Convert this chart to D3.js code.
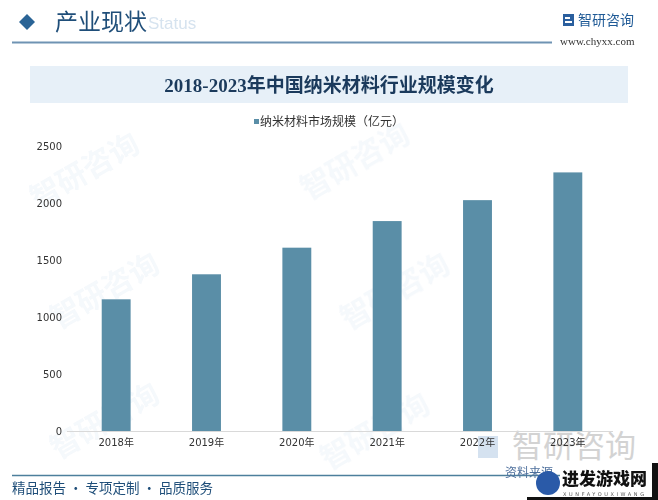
<!DOCTYPE html>
<html><head><meta charset="utf-8">
<script src="https://cdn.jsdelivr.net/npm/d3@7/dist/d3.min.js"></script>
<style>body{margin:0;background:#fff}svg{display:block}</style>
</head><body>
<svg id="c" width="658" height="500"></svg>
<script>
const categories = ["2018年","2019年","2020年","2021年","2022年","2023年"];
const values = [1158, 1378, 1612, 1846, 2030, 2274];
const yTicks = [0, 500, 1000, 1500, 2000, 2500];
const seriesName = "纳米材料市场规模（亿元）";
const titleText = "2018-2023年中国纳米材料行业规模变化";

const svg = d3.select("#c");
const cjk = "'Noto Sans CJK SC', 'Noto Sans', sans-serif";
const serif = "'Liberation Serif', 'DejaVu Serif', 'Noto Sans CJK SC', serif";
const barColor = "#5a8ea7";

// faint watermarks
const wm = svg.append("g").attr("opacity", 0.045).attr("fill", "#2a6bb0").attr("font-family", cjk).attr("font-size", 30).attr("font-weight", 700);
[[90,180],[360,170],[110,300],[400,300],[110,430],[380,440]].forEach(([x,y]) => {
  wm.append("text").attr("transform", `translate(${x},${y}) rotate(-30)`).attr("text-anchor","middle").text("智研咨询");
});

// bottom-right watermark (behind chart labels)
svg.append("rect").attr("x", 478).attr("y", 436).attr("width", 20).attr("height", 22).attr("fill", "#d5e2f0");
svg.append("text").attr("x", 512).attr("y", 457).attr("font-family", cjk).attr("font-size", 31).attr("fill", "#c9c9c9").attr("opacity", 0.8).text("智研咨询");

// header
svg.append("path").attr("d", "M27,14 L35,22 L27,30 L19,22 Z").attr("fill", "#2a6496");
svg.append("text").attr("x", 148).attr("y", 29).attr("font-family", "'Liberation Sans', sans-serif").attr("font-size", 17).attr("fill", "#d6e3ef").text("Status");
svg.append("text").attr("x", 55).attr("y", 30).attr("font-family", serif).attr("font-size", 23).attr("fill", "#1f4e79").text("产业现状");
svg.append("line").attr("x1", 12).attr("x2", 552).attr("y1", 42.5).attr("y2", 42.5).attr("stroke", "#6f93b3").attr("stroke-width", 2);
// logo
const lg = svg.append("g");
lg.append("rect").attr("x", 563).attr("y", 14).attr("width", 11).attr("height", 12).attr("fill", "#2a5f9e");
lg.append("path").attr("d", "M565,17 h5 v2 h-5 z M565,21 h7 v2 h-7 z").attr("fill", "#fff");
lg.append("text").attr("x", 578).attr("y", 25).attr("font-family", cjk).attr("font-size", 14).attr("fill", "#1f5a96").text("智研咨询");
lg.append("text").attr("x", 560).attr("y", 45).attr("font-family", serif).attr("font-size", 11).attr("fill", "#333").text("www.chyxx.com");

// title band
svg.append("rect").attr("x", 30).attr("y", 66).attr("width", 598).attr("height", 37).attr("fill", "#e7f0f8");
svg.append("text").attr("x", 329).attr("y", 92).attr("text-anchor", "middle").attr("font-family", serif).attr("font-size", 19).attr("font-weight", 700).attr("fill", "#1b3a5c").text(titleText);

// legend
svg.append("rect").attr("x", 254).attr("y", 119).attr("width", 5).attr("height", 5).attr("fill", barColor);
svg.append("text").attr("x", 260).attr("y", 126).attr("font-family", cjk).attr("font-size", 12).attr("fill", "#333").text(seriesName);

// scales
const x = d3.scaleBand().domain(categories).range([71, 613]).paddingInner(0.68).paddingOuter(0.34);
const y = d3.scaleLinear().domain([0, 2500]).range([431, 146.7]);

// bars
svg.append("g").selectAll("rect").data(values).join("rect")
  .attr("x", (d, i) => x(categories[i]))
  .attr("y", d => y(d))
  .attr("width", x.bandwidth())
  .attr("height", d => y(0) - y(d))
  .attr("fill", barColor);

// y axis
const ya = svg.append("g").attr("transform", "translate(66,0)")
  .call(d3.axisLeft(y).tickValues(yTicks).tickFormat(d3.format("d")).tickSize(0).tickPadding(4));
ya.select(".domain").remove();
ya.selectAll("text").attr("font-family", "'DejaVu Sans', sans-serif").attr("font-size", 10).attr("fill", "#333");

// x axis
const xa = svg.append("g").attr("transform", `translate(0,${y(0)})`)
  .call(d3.axisBottom(x).tickSize(0).tickPadding(8));
xa.select(".domain").attr("stroke", "#d9d9d9").attr("d", "M67,0.5H613");
xa.selectAll("text").attr("font-family", "'DejaVu Sans', " + cjk).attr("font-size", 10).attr("fill", "#333");

// footer
svg.append("line").attr("x1", 12).attr("x2", 560).attr("y1", 475.5).attr("y2", 475.5).attr("stroke", "#4d7f9c").attr("stroke-width", 1.5);
svg.append("text").attr("x", 12).attr("y", 493).attr("font-family", cjk).attr("font-size", 13.5).attr("fill", "#1f4e79").text("精品报告 · 专项定制 · 品质服务");
svg.append("text").attr("x", 505).attr("y", 477).attr("font-family", cjk).attr("font-size", 12).attr("fill", "#4d6f9c").text("资料来源");

// overlay logo
svg.append("rect").attr("x", 652).attr("y", 463).attr("width", 6).attr("height", 37).attr("fill", "#111");
svg.append("rect").attr("x", 527).attr("y", 497).attr("width", 131).attr("height", 3).attr("fill", "#111");
svg.append("circle").attr("cx", 548).attr("cy", 483).attr("r", 12).attr("fill", "#2a5aa8");
svg.append("text").attr("x", 562).attr("y", 485).attr("font-family", cjk).attr("font-size", 17).attr("font-weight", 900).attr("fill", "#111").text("进发游戏网");
svg.append("text").attr("x", 563).attr("y", 496).attr("font-family", "'DejaVu Sans', sans-serif").attr("font-size", 5).attr("letter-spacing", 2.6).attr("fill", "#555").text("XUNFAYOUXIWANG");
</script>
</body></html>
